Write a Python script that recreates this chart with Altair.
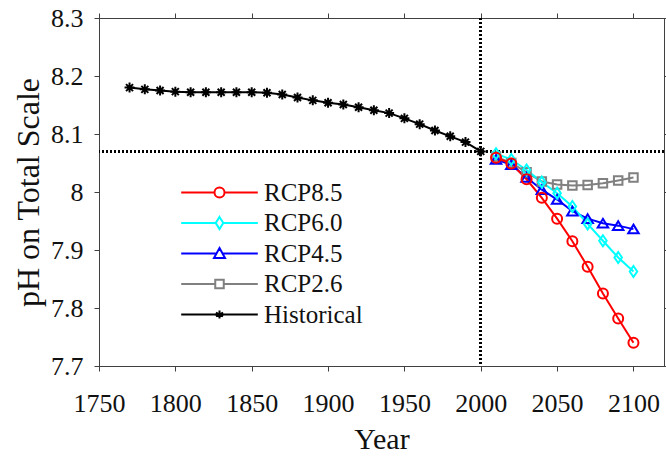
import altair as alt
import pandas as pd

# ---------------- data ----------------
HIST_YEARS = [1770, 1780, 1790, 1800, 1810, 1820, 1830, 1840, 1850, 1860, 1870, 1880,
              1890, 1900, 1910, 1920, 1930, 1940, 1950, 1960, 1970, 1980, 1990, 2000]
HIST_PH = [8.180, 8.177, 8.175, 8.173, 8.172, 8.172, 8.172, 8.172, 8.172, 8.171, 8.168, 8.163,
           8.158, 8.154, 8.151, 8.146, 8.141, 8.136, 8.127, 8.117, 8.106, 8.096, 8.086, 8.070]

FUT_YEARS = [2010, 2020, 2030, 2040, 2050, 2060, 2070, 2080, 2090, 2100]
RCP85 = [8.059, 8.049, 8.022, 7.990, 7.954, 7.915, 7.871, 7.825, 7.782, 7.740]
RCP60 = [8.066, 8.056, 8.038, 8.017, 7.998, 7.975, 7.945, 7.916, 7.887, 7.863]
RCP45 = [8.056, 8.047, 8.025, 8.004, 7.987, 7.967, 7.954, 7.946, 7.942, 7.936]
RCP26 = [8.061, 8.050, 8.034, 8.018, 8.013, 8.011, 8.012, 8.015, 8.020, 8.025]

SERIES = ["RCP8.5", "RCP6.0", "RCP4.5", "RCP2.6", "Historical"]
COLORS = ["#ff0000", "#00ffff", "#0000ff", "#808080", "#000000"]
X_TICKS = [1750, 1800, 1850, 1900, 1950, 2000, 2050, 2100]
Y_TICKS = [7.7, 7.8, 7.9, 8.0, 8.1, 8.2, 8.3]
REF_YEAR = 2000
REF_PH = 8.07

# ---------------- table ----------------
rows = [dict(Year=y, pH=v, Series="Historical") for y, v in zip(HIST_YEARS, HIST_PH)]
for name, vals in [("RCP2.6", RCP26), ("RCP4.5", RCP45), ("RCP6.0", RCP60), ("RCP8.5", RCP85)]:
    rows += [dict(Year=y, pH=v, Series=name) for y, v in zip(FUT_YEARS, vals)]
df = pd.DataFrame(rows)

FONT = "Liberation Serif"
AX = "#404040"

# marker shapes (unit square -1..1)
PLOT_SHAPES = [
    "M 1 0 A 1 1 0 1 0 -1 0 A 1 1 0 1 0 1 0",
    "M 0 -1.1 L 0.75 0 L 0 1.1 L -0.75 0 Z",
    "M 0 -0.9 L 1.05 0.85 L -1.05 0.85 Z",
    "M -0.85 -0.85 L 0.85 -0.85 L 0.85 0.85 L -0.85 0.85 Z",
    "M -1 0 L 1 0 M 0 -1 L 0 1 M -0.7 -0.7 L 0.7 0.7 M -0.7 0.7 L 0.7 -0.7",
]
# legend symbols: line segment + marker
LEGEND_SHAPES = [
    "M -7.66 0 L -1 0 M 1 0 L 7.66 0 M 1 0 A 1 1 0 1 0 -1 0 A 1 1 0 1 0 1 0",
    "M -7.66 0 L -0.75 0 M 0.75 0 L 7.66 0 M 0 -1.2 L 0.75 0 L 0 1.2 L -0.75 0 Z",
    "M -7.66 0 L -0.6 0 M 0.6 0 L 7.66 0 M 0 -1.1 L 1.1 0.9 L -1.1 0.9 Z",
    "M -7.66 0 L -0.85 0 M 0.85 0 L 7.66 0 M -0.85 -0.85 L 0.85 -0.85 L 0.85 0.85 L -0.85 0.85 Z",
    "M -7.66 0 L 7.66 0 M 0 -0.8 L 0 0.8 M -0.7 -0.4 L 0.7 0.4 M -0.7 0.4 L 0.7 -0.4",
]

xscale = alt.Scale(domain=[1750, 2120], nice=False, zero=False)
yscale = alt.Scale(domain=[7.7, 8.3], nice=False, zero=False)

x_axis = alt.Axis(values=X_TICKS, format="d", title="Year", grid=False,
                  labelFont=FONT, labelFontSize=26, labelColor="#111111", labelPadding=19,
                  titleFont=FONT, titleFontSize=30, titleFontWeight="normal", titleColor="#111111",
                  titlePadding=8, tickSize=5, tickColor=AX, domainColor=AX, labelFlush=False)
y_axis = alt.Axis(values=Y_TICKS, format="~g", title="pH on Total Scale", grid=False,
                  labelFont=FONT, labelFontSize=26, labelColor="#111111", labelPadding=11,
                  titleFont=FONT, titleFontSize=32, titleFontWeight="normal", titleColor="#111111",
                  titlePadding=5, tickSize=5, tickColor=AX, domainColor=AX, labelFlush=False)

X = alt.X("Year:Q", scale=xscale, axis=x_axis)
Y = alt.Y("pH:Q", scale=yscale, axis=y_axis)

color_plot = alt.Color("Series:N", scale=alt.Scale(domain=SERIES, range=COLORS), legend=None)
shape_plot = alt.Shape("Series:N", scale=alt.Scale(domain=SERIES, range=PLOT_SHAPES), legend=None)
sw_plot = alt.StrokeWidth("Series:N", scale=alt.Scale(domain=SERIES, range=[2, 2, 2, 1.6, 4]), legend=None)

base = alt.Chart(df)
lines = base.mark_line(strokeWidth=2).encode(x=X, y=Y, color=color_plot)
points = base.mark_point(filled=False, size=100, opacity=1).encode(
    x=X, y=Y, color=color_plot, shape=shape_plot, strokeWidth=sw_plot)

vrule = alt.Chart(df).mark_rule(color="black", strokeWidth=2, strokeDash=[2, 2]).encode(
    x=alt.datum(REF_YEAR))
hrule = alt.Chart(df).mark_rule(color="black", strokeWidth=2, strokeDash=[2, 2]).encode(
    y=alt.datum(REF_PH))

main = alt.layer(hrule, vrule, lines, points)

LEG = alt.Legend(title=None, orient="none", legendX=108, legendY=162,
                 labelFont=FONT, labelFontSize=25, labelColor="#111111",
                 symbolSize=100, symbolStrokeWidth=2, rowPadding=4.5, labelOffset=32)

legend_layer = base.transform_filter("false").mark_point(filled=False, size=100, opacity=1).encode(
    x=alt.X("Year:Q", scale=xscale,
            axis=alt.Axis(orient="top", labels=False, title=None, values=X_TICKS, grid=False,
                          tickSize=5, tickColor=AX, domainColor=AX)),
    y=alt.Y("pH:Q", scale=yscale,
            axis=alt.Axis(orient="right", labels=False, title=None, values=Y_TICKS, grid=False,
                          tickSize=5, tickColor=AX, domainColor=AX)),
    color=alt.Color("Series:N", scale=alt.Scale(domain=SERIES, range=COLORS), legend=LEG),
    shape=alt.Shape("Series:N", scale=alt.Scale(domain=SERIES, range=LEGEND_SHAPES), legend=LEG),
)

chart = alt.layer(main, legend_layer).resolve_scale(
    color="independent", shape="independent"
).resolve_axis(
    x="independent", y="independent"
).properties(
    width=565, height=348,
    padding={"left": 99, "top": 18, "right": 2, "bottom": 91},
    autosize=alt.AutoSizeParams(type="none"),
).configure(
    font=FONT
).configure_view(
    stroke=AX, strokeWidth=1
).configure_legend(
    labelFont=FONT, labelFontSize=25, labelColor="#111111"
)

chart.save("out.html", embed_options={"renderer": "svg", "actions": False})
